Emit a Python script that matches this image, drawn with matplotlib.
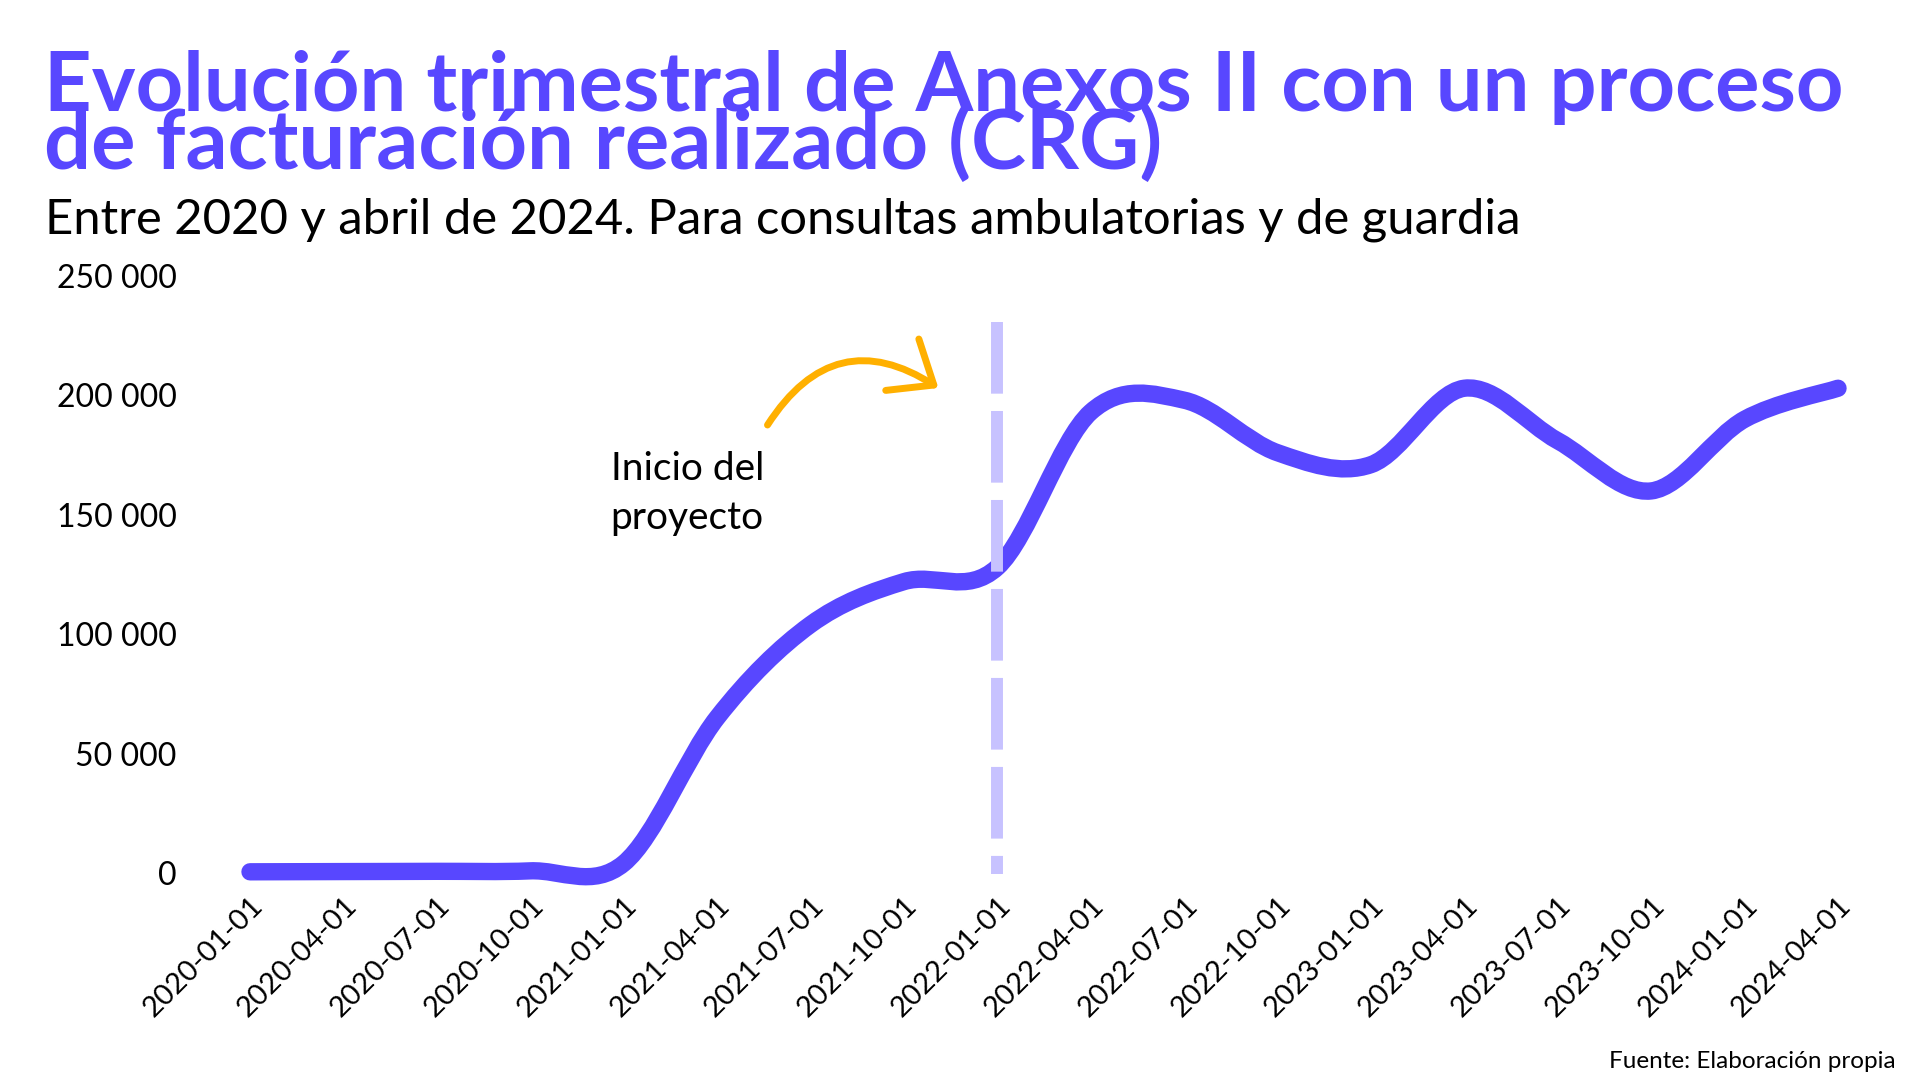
import numpy as np
import matplotlib
matplotlib.use("Agg")
import matplotlib.pyplot as plt
from matplotlib.path import Path
from matplotlib.patches import PathPatch
from matplotlib.ticker import FuncFormatter

# datos trimestrales
quarters = ['2020-01-01', '2020-04-01', '2020-07-01', '2020-10-01',
            '2021-01-01', '2021-04-01', '2021-07-01', '2021-10-01',
            '2022-01-01', '2022-04-01', '2022-07-01', '2022-10-01',
            '2023-01-01', '2023-04-01', '2023-07-01', '2023-10-01',
            '2024-01-01', '2024-04-01']
anexos = [500, 600, 700, 900,
          4000, 65000, 104000, 122000,
          128000, 193000, 198000, 176000,
          171000, 203000, 181000, 160000,
          190000, 203000]
yticks = [0, 50000, 100000, 150000, 200000, 250000]
inicio_proyecto = '2022-01-01'

PURPLE = '#5847FF'
LAVENDER = '#C7C2FF'
ORANGE = '#FFB000'
FONT = 'Lato'

plt.rcParams['font.family'] = [FONT, 'DejaVu Sans']

W, H = 1920, 1080
fig = plt.figure(figsize=(19.2, 10.8), dpi=100)
fig.patch.set_facecolor('white')
ax = fig.add_axes([250 / W, 1 - 873 / H, (1838 - 250) / W, (873 - 276) / H])

x = np.arange(len(quarters), dtype=float)
y = np.array(anexos, dtype=float)

# curva suave tipo catmull-rom a partir de los puntos
pts = np.column_stack([x, y])
ext = np.vstack([pts[0], pts, pts[-1]])
verts = [tuple(pts[0])]
codes = [Path.MOVETO]
for i in range(len(pts) - 1):
    p0, p1, p2, p3 = ext[i], ext[i + 1], ext[i + 2], ext[i + 3]
    c1 = p1 + (p2 - p0) / 6
    c2 = p2 - (p3 - p1) / 6
    verts += [tuple(c1), tuple(c2), tuple(p2)]
    codes += [Path.CURVE4] * 3
line = PathPatch(Path(verts, codes), facecolor='none', edgecolor=PURPLE,
                 lw=12.5, capstyle='round', joinstyle='round', clip_on=False, zorder=3)
ax.add_patch(line)

xi = quarters.index(inicio_proyecto)
ax.plot([xi, xi], [230700, -500], color=LAVENDER, lw=8.6, dashes=(6, 1.45),
        solid_capstyle='butt', dash_capstyle='butt', clip_on=False, zorder=4)

ax.set_xlim(0, len(quarters) - 1)
ax.set_ylim(0, 250000)
for s in ax.spines.values():
    s.set_visible(False)
ax.set_yticks(yticks)
ax.yaxis.set_major_formatter(FuncFormatter(lambda v, p: f'{v:,.0f}'.replace(',', ' ')))
ax.set_xticks(x)
ax.set_xticklabels(quarters, rotation=45, ha='right', va='top', rotation_mode='anchor')
ax.tick_params(axis='y', length=0, pad=53, labelsize=23)
ax.tick_params(axis='x', length=0, pad=14, labelsize=21)

# anotacion
ax.text(3.86, 144000, 'Inicio del\nproyecto', fontsize=28, color='black',
        ha='left', va='baseline', linespacing=1.45)
ax.annotate('', xy=(7.37, 203100), xytext=(5.54, 187600),
            arrowprops=dict(arrowstyle='->,head_length=1.35,head_width=1.1',
                            connectionstyle='arc3,rad=-0.5', color=ORANGE,
                            lw=5, mutation_scale=20, capstyle='round',
                            joinstyle='round', shrinkA=0, shrinkB=0))

fig.text(44 / W, 1 - 111 / H, 'Evolución trimestral de Anexos II con un proceso',
         fontsize=59.8, fontweight='bold', color=PURPLE, ha='left', va='baseline')
fig.text(44 / W, 1 - 169 / H, 'de facturación realizado (CRG)',
         fontsize=59.8, fontweight='bold', color=PURPLE, ha='left', va='baseline')
fig.text(45 / W, 1 - 234 / H, 'Entre 2020 y abril de 2024. Para consultas ambulatorias y de guardia',
         fontsize=35.3, color='black', ha='left', va='baseline')
fig.text(1896 / W, 1 - 1068 / H, 'Fuente: Elaboración propia',
         fontsize=17.5, color='black', ha='right', va='baseline')

fig.savefig('out.png', dpi=100, facecolor='white')
